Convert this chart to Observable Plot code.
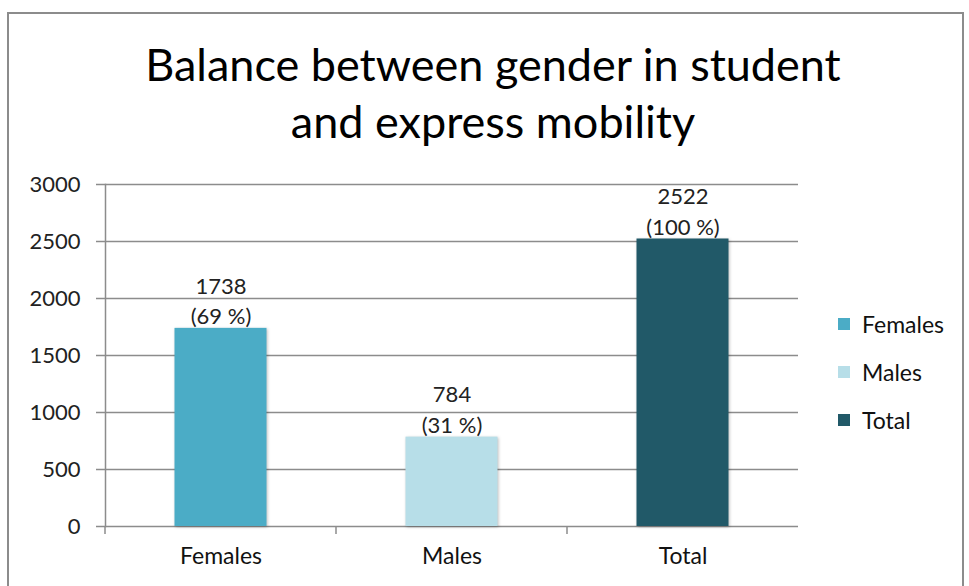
<!DOCTYPE html>
<html>
<head>
<meta charset="utf-8">
<script src="https://cdn.jsdelivr.net/npm/d3@7"></script>
<script src="https://cdn.jsdelivr.net/npm/@observablehq/plot@0.6"></script>
<style>
  html, body { margin: 0; padding: 0; background: #fff; }
  #wrap { position: relative; width: 969px; height: 586px; overflow: hidden; font-family: Lato, "Open Sans", sans-serif; }
  #frame { position: absolute; left: 7px; top: 12px; width: 957px; height: 600px; border: 2px solid #8c8c8c; box-sizing: border-box; }
  #title { position: absolute; left: 0; top: 36px; width: 986px; text-align: center; font-size: 45px; line-height: 57px; color: #000; }
  #legend { position: absolute; left: 838px; top: 300px; font-size: 23px; color: #111; }
  #legend .item { display: flex; align-items: center; height: 48px; }
  #legend .sw { width: 12px; height: 12px; margin-right: 12px; }
  #chart { position: absolute; left: 0; top: 0; clip-path: inset(0 0 0 12px); }
  #chart g[aria-label="bar"] rect { filter: drop-shadow(1.5px 1.5px 1.5px rgba(0,0,0,0.25)); }
</style>
</head>
<body>
<div id="wrap">
  <div id="frame"></div>
  <div id="chart"></div>
  <div id="title">Balance between gender in student<br>and express mobility</div>
  <div id="legend"></div>
</div>
<script>
const categories = ["Females", "Males", "Total"];
const values = [1738, 784, 2522];
const percents = ["69 %", "31 %", "100 %"];
const colors = ["#4bacc6", "#b7dee8", "#215968"];
const yTicks = [0, 500, 1000, 1500, 2000, 2500, 3000];

const data = categories.map((c, i) => ({category: c, value: values[i], pct: percents[i]}));

const W = 969, H = 586;
const mL = 105, mR = 969 - 798, mT = 184, mB = H - 526;

function bandTicks(index, scales, values, dims) {
  const g = d3.create("svg:g");
  const x = scales.x;
  const bw = x.bandwidth != null ? x.bandwidth : (dims.width - dims.marginLeft - dims.marginRight) / categories.length;
  const y0 = dims.height - dims.marginBottom;
  const edges = new Set();
  for (const c of categories) { edges.add(x(c)); edges.add(x(c) + bw); }
  for (const e of edges) {
    g.append("line").attr("x1", e).attr("x2", e).attr("y1", y0).attr("y2", y0 + 8)
      .attr("stroke", "#8c8c8c").attr("stroke-width", 1.5);
  }
  return g.node();
}

const chart = Plot.plot({
  width: W,
  height: H,
  marginLeft: mL,
  marginRight: mR,
  marginTop: mT,
  marginBottom: mB,
  style: {fontFamily: "Lato, 'Open Sans', sans-serif", background: "transparent"},
  x: {domain: categories, padding: 0, label: null, axis: null},
  y: {domain: [0, 3000], label: null, axis: null},
  color: {domain: categories, range: colors},
  marks: [
    Plot.ruleY(yTicks, {stroke: "#8c8c8c", strokeWidth: 1.5, insetLeft: -9}),
    Plot.frame({anchor: "left", stroke: "#8c8c8c", strokeWidth: 1.5}),
    Plot.barY(data, {x: "category", y: "value", fill: "category", insetLeft: 69.5, insetRight: 69.5}),
    Plot.text(data, {x: "category", y: "value", text: d => `${d.value}\n(${d.pct})`, lineAnchor: "bottom", lineHeight: 1.4, dy: -4, fontSize: 22, fill: "#222"}),
    Plot.axisY({ticks: yTicks, tickSize: 0, tickPadding: 25, fontSize: 22, color: "#222", label: null, tickFormat: d => String(d)}),
    Plot.axisX({tickSize: 0, tickPadding: 21, fontSize: 23, color: "#111", label: null}),
    bandTicks
  ]
});
document.getElementById("chart").appendChild(chart);

const legend = document.getElementById("legend");
categories.forEach((c, i) => {
  const item = document.createElement("div");
  item.className = "item";
  const sw = document.createElement("span");
  sw.className = "sw";
  sw.style.background = colors[i];
  const t = document.createElement("span");
  t.textContent = c;
  item.appendChild(sw);
  item.appendChild(t);
  legend.appendChild(item);
});
</script>
</body>
</html>
